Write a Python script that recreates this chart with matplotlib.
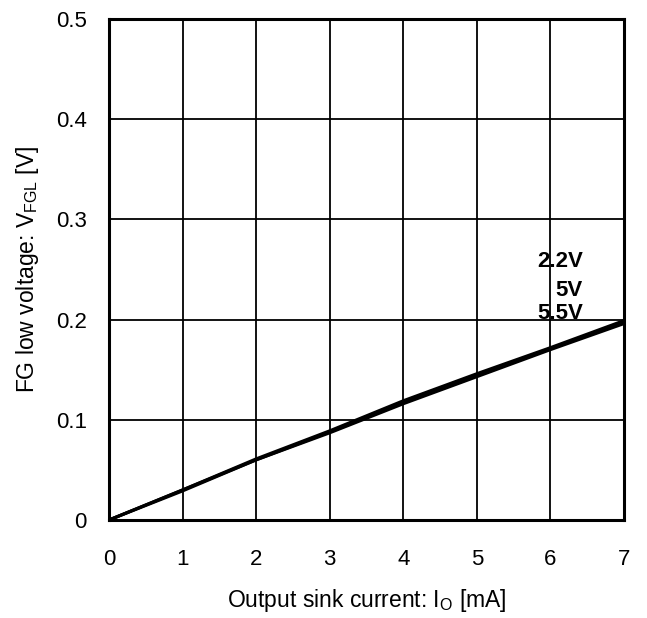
import matplotlib
matplotlib.use("Agg")
import matplotlib.pyplot as plt

plt.rcParams['font.family'] = ['Liberation Sans', 'DejaVu Sans']
plt.rcParams['mathtext.fontset'] = 'custom'
plt.rcParams['mathtext.rm'] = 'Liberation Sans'
plt.rcParams['mathtext.it'] = 'Liberation Sans'

# Output sink current [mA]
current = [0, 1, 2, 3, 4, 5, 6, 7]

# FG low voltage [V] per supply voltage
v_22 = [0, 0.030, 0.060, 0.088, 0.117, 0.144, 0.171, 0.198]
v_50 = [0, 0.030, 0.061, 0.089, 0.119, 0.146, 0.172, 0.199]
v_55 = [0, 0.029, 0.060, 0.087, 0.116, 0.143, 0.170, 0.196]

labels = ["2.2V", "5V", "5.5V"]
label_y = [0.258, 0.229, 0.206]

fig = plt.figure(figsize=(6.47, 6.18), dpi=100)
ax = fig.add_axes([0.1685, 0.1586, 0.796, 0.8107])

for v in (v_22, v_50, v_55):
    ax.plot(current, v, color='black', linewidth=2.2)

for lab, y in zip(labels, label_y):
    ax.text(6.44, y, lab, ha='right', va='center', fontsize=16, fontweight='bold')

ax.set_xlim(0, 7)
ax.set_ylim(0, 0.5)
ax.set_xticks(range(0, 8))
ax.set_yticks([0, 0.1, 0.2, 0.3, 0.4, 0.5])
ax.set_yticklabels(["0", "0.1", "0.2", "0.3", "0.4", "0.5"])
ax.grid(True, color='black', linewidth=1.3)
ax.tick_params(length=0, labelsize=16)
ax.tick_params(axis='x', pad=21)
ax.tick_params(axis='y', pad=16)
for s in ax.spines.values():
    s.set_linewidth(2.2)

ax.set_xlabel("Output sink current: I$_{\\rm O}$ [mA]", fontsize=16.5, labelpad=12)
ax.set_ylabel("FG low voltage: V$_{\\rm FGL}$ [V]", fontsize=16.5, labelpad=11)

fig.savefig("out.png", dpi=100)
